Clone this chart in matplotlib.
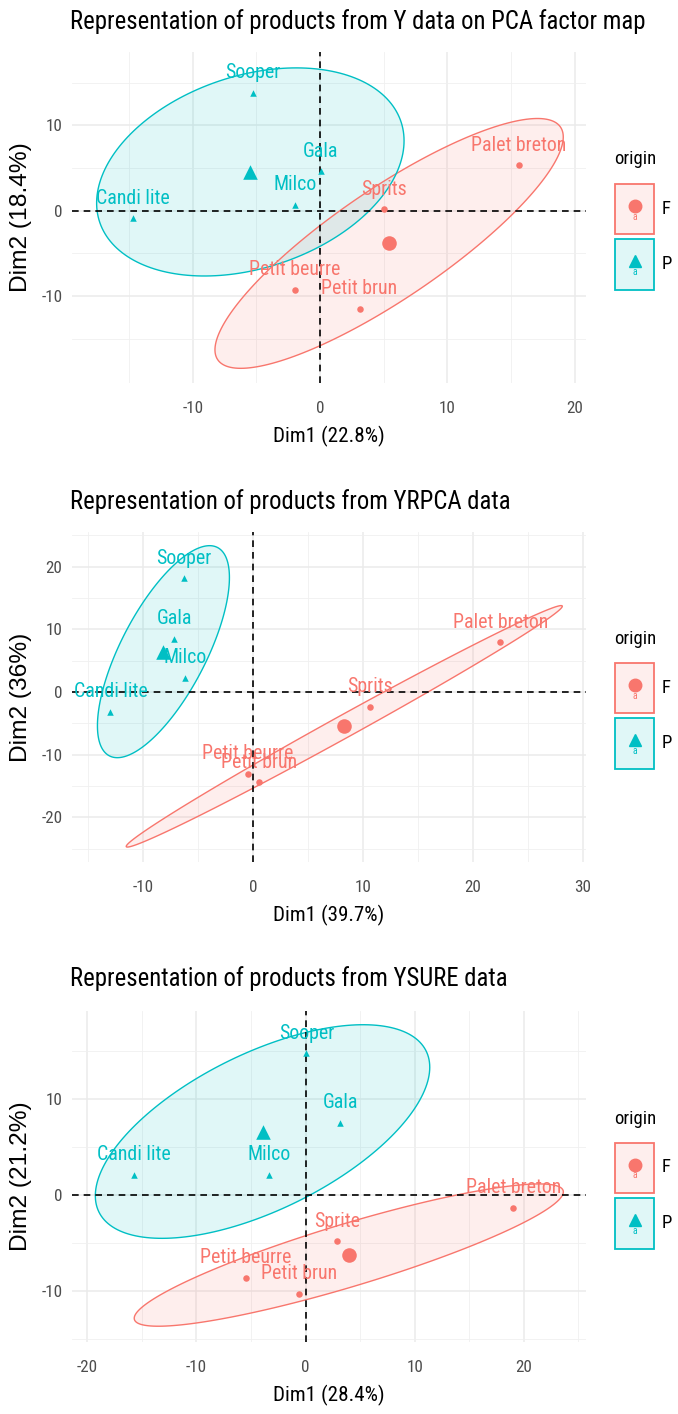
import numpy as np
import matplotlib
matplotlib.use("Agg")
import matplotlib.pyplot as plt
from matplotlib import font_manager as fm
from matplotlib.patches import Polygon, Rectangle
from matplotlib.lines import Line2D

# ---------------- data ----------------
products = ["Sooper", "Gala", "Milco", "Candi lite",
            "Palet breton", "Sprits", "Petit beurre", "Petit brun"]
origin = ["P", "P", "P", "P", "F", "F", "F", "F"]

# Panel 1: Y data on PCA factor map
y_dim1 = [-5.3, 0.07, -2.0, -14.7, 15.6, 5.0, -2.0, 3.1]
y_dim2 = [13.8, 4.6, 0.66, -0.9, 5.3, 0.15, -9.3, -11.5]

# Panel 2: YRPCA data
yr_dim1 = [-6.3, -7.2, -6.2, -13.0, 22.5, 10.66, -0.5, 0.5]
yr_dim2 = [18.1, 8.5, 2.3, -3.2, 7.9, -2.4, -13.0, -14.4]

# Panel 3: YSURE data
ys_dim1 = [0.08, 3.2, -3.34, -15.7, 19.05, 2.86, -5.5, -0.56]
ys_dim2 = [14.8, 7.55, 2.1, 2.1, -1.3, -4.8, -8.6, -10.26]
ys_products = ["Sooper", "Gala", "Milco", "Candi lite",
               "Palet breton", "Sprite", "Petit beurre", "Petit brun"]

titles = ["Representation of products from Y data on PCA factor map",
          "Representation of products from YRPCA data",
          "Representation of products from YSURE data"]
xlabels = ["Dim1 (22.8%)", "Dim1 (39.7%)", "Dim1 (28.4%)"]
ylabels = ["Dim2 (18.4%)", "Dim2 (36%)", "Dim2 (21.2%)"]
legend_title = "origin"
groups = ["F", "P"]

# ---------------- font choice ----------------
names = {f.name for f in fm.fontManager.ttflist}
FAM = None
for cand in ["Liberation Sans Narrow", "Arial Narrow", "Roboto Condensed",
             "Open Sans Condensed", "Noto Sans Condensed"]:
    if cand in names:
        FAM = cand
        break
if FAM is None:
    others = sorted(n for n in names if ("Narrow" in n or "Condensed" in n))
    FAM = others[0] if others else "Liberation Sans"
plt.rcParams['font.family'] = [FAM, 'DejaVu Sans']
plt.rcParams['axes.unicode_minus'] = False
YFAM = ["Liberation Sans", "DejaVu Sans"]

# ---------------- style ----------------
COL = {"F": "#F8766D", "P": "#00BFC4"}
MARK = {"F": "o", "P": "^"}
W, H = 678, 1414
fig = plt.figure(figsize=(W / 100, H / 100), dpi=100)
renderer = fig.canvas.get_renderer()


def fit(text, target, vertical=False, family=None):
    kw = {"family": family} if family else {}
    t = fig.text(0, 0, text, fontsize=10, rotation=90 if vertical else 0, **kw)
    bb = t.get_window_extent(renderer)
    t.remove()
    return 10 * target / (bb.height if vertical else bb.width)


FS_TITLE = fit(titles[0], 573)
FS_TICK = fit("-10", 21)
FS_XLAB = fit(xlabels[0], 110)
FS_YLAB = fit(ylabels[0], 150, vertical=True, family=YFAM)
FS_PT = fit("Palet breton", 95)
FS_LEG = fit(legend_title, 42)


def fx(px):
    return px / W


def fy(py):
    return 1 - py / H


panels = [
    dict(x=y_dim1, y=y_dim2, names=products, top=52, bottom=383,
         xlim=(-19.5, 20.9), ylim=(-20.2, 18.6),
         xmaj=[-10, 0, 10, 20], ymaj=[-10, 0, 10],
         xmin=[-15, -5, 5, 15], ymin=[-15, -5, 5, 15], title_y=22),
    dict(x=yr_dim1, y=yr_dim2, names=products, top=532, bottom=862,
         xlim=(-16.5, 30.3), ylim=(-27.1, 25.5),
         xmaj=[-10, 0, 10, 20, 30], ymaj=[-20, -10, 0, 10, 20],
         xmin=[-15, -5, 5, 15, 25], ymin=[-25, -15, -5, 5, 15, 25], title_y=502),
    dict(x=ys_dim1, y=ys_dim2, names=ys_products, top=1011, bottom=1342,
         xlim=(-21.4, 25.7), ylim=(-15.3, 19.2),
         xmaj=[-20, -10, 0, 10, 20], ymaj=[-10, 0, 10],
         xmin=[-15, -5, 5, 15, 25], ymin=[-15, -5, 5, 15], title_y=979),
]

LEFT, RIGHT = 72, 586
R_ELL = 1.85

for i, p in enumerate(panels):
    ax = fig.add_axes([fx(LEFT), fy(p["bottom"]), fx(RIGHT - LEFT),
                       (p["bottom"] - p["top"]) / H])
    ax.set_xlim(*p["xlim"])
    ax.set_ylim(*p["ylim"])
    for s in ax.spines.values():
        s.set_visible(False)
    ax.set_xticks(p["xmaj"])
    ax.set_yticks(p["ymaj"])
    ax.set_xticks(p["xmin"], minor=True)
    ax.set_yticks(p["ymin"], minor=True)
    ax.tick_params(which="both", length=0)
    ax.tick_params(axis="both", labelsize=FS_TICK, labelcolor="#4D4D4D")
    ax.tick_params(axis="x", pad=13)
    ax.tick_params(axis="y", pad=7)
    ax.grid(which="major", color="#EBEBEB", lw=1.1, zorder=0)
    ax.grid(which="minor", color="#F0F0F0", lw=0.6, zorder=0)
    ax.set_axisbelow(True)

    x = np.array(p["x"]); y = np.array(p["y"])
    org = np.array(origin)
    t = np.linspace(0, 2 * np.pi, 200)
    for g in groups:
        m = org == g
        pts = np.column_stack([x[m], y[m]])
        c = pts.mean(axis=0)
        L = np.linalg.cholesky(np.cov(pts.T))
        ell = (c[:, None] + R_ELL * L @ np.vstack([np.cos(t), np.sin(t)])).T
        ax.add_patch(Polygon(ell, closed=True, facecolor=COL[g], alpha=0.12,
                             edgecolor="none", zorder=1))
        ax.add_patch(Polygon(ell, closed=True, facecolor="none",
                             edgecolor=COL[g], lw=1.0, zorder=2))
    ax.axhline(0, color="black", ls=(0, (4, 3)), lw=1.2, zorder=3)
    ax.axvline(0, color="black", ls=(0, (4, 3)), lw=1.2, zorder=3)
    for g in groups:
        m = org == g
        ax.scatter(x[m], y[m], marker=MARK[g], s=22, color=COL[g], zorder=4,
                   linewidths=0)
        ax.scatter([x[m].mean()], [y[m].mean()], marker=MARK[g], s=110,
                   color=COL[g], zorder=4, linewidths=0)
    for xi, yi, nm, g in zip(x, y, p["names"], origin):
        ax.annotate(nm, (xi, yi), xytext=(0, 14.5), textcoords="offset points",
                    ha="center", va="center", fontsize=FS_PT, color=COL[g],
                    zorder=5)

    ax.set_xlabel(xlabels[i], fontsize=FS_XLAB, labelpad=7)
    ax.set_ylabel(ylabels[i], fontsize=FS_YLAB, family=YFAM)
    ax.yaxis.set_label_coords((32 - LEFT) / (RIGHT - LEFT), 0.5)
    fig.text(fx(70), fy(p["title_y"]), titles[i], fontsize=FS_TITLE,
             ha="left", va="center")

    # legend
    cy = (p["top"] + p["bottom"]) / 2
    fig.text(fx(635), fy(cy - 58), legend_title, fontsize=FS_LEG, ha="center",
             va="center")
    for g, y0, y1 in [(groups[0], cy - 34, cy + 16),
                      (groups[1], cy + 21, cy + 72)]:
        fig.patches.append(Rectangle((fx(615), fy(y1)), fx(39), (y1 - y0) / H,
                                     transform=fig.transFigure,
                                     facecolor=COL[g] + "1F",
                                     edgecolor=COL[g], lw=1.3))
        kc = (y0 + y1) / 2
        fig.lines.append(Line2D([fx(634.5)], [fy(kc - 3)], marker=MARK[g],
                                markersize=9, color=COL[g], lw=0,
                                transform=fig.transFigure))
        fig.text(fx(634.5), fy(kc + 8), "a", fontsize=7, color=COL[g],
                 ha="center", va="center")
        fig.text(fx(662), fy(kc), g, fontsize=FS_LEG, ha="left", va="center")

fig.savefig("out.png", dpi=100)
